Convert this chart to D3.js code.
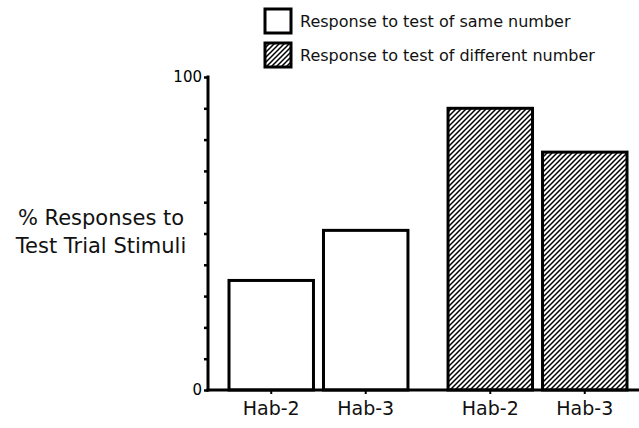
<!DOCTYPE html>
<html>
<head>
<meta charset="utf-8">
<style>
body { margin: 0; background: #fff; }
svg { display: block; font-family: "DejaVu Sans", Verdana, sans-serif; }
.axis .domain { display: none; }
</style>
</head>
<body>
<svg width="639" height="428" id="chart"></svg>
<script src="https://d3js.org/d3.v7.min.js"></script>
<script>
// data
var groups = ["same", "different"];
var categories = ["Hab-2", "Hab-3"];
var sameValues = [35, 51];
var differentValues = [90, 76];
var legendLabels = ["Response to test of same number", "Response to test of different number"];
var yTicks = [0, 10, 20, 30, 40, 50, 60, 70, 80, 90, 100];
var yLabelLines = ["% Responses to", "Test Trial Stimuli"];

var svg = d3.select("#chart");

var defs = svg.append("defs");
var pat = defs.append("pattern")
    .attr("id", "hatch")
    .attr("patternUnits", "userSpaceOnUse")
    .attr("width", 5)
    .attr("height", 5);
pat.append("rect").attr("width", 5).attr("height", 5).attr("fill", "#fff");
pat.append("path")
    .attr("d", "M-1,1 l2,-2 M0,5 l5,-5 M4,6 l2,-2")
    .attr("stroke", "#000")
    .attr("stroke-width", 1.5);

var seriesByGroup = {same: sameValues, different: differentValues};
var fillByGroup = {same: "#fff", different: "url(#hatch)"};

var data = [];
groups.forEach(function(g) {
  categories.forEach(function(c, i) {
    data.push({group: g, cat: c, value: seriesByGroup[g][i]});
  });
});

var x0 = d3.scaleBand()
    .domain(groups)
    .range([229, 627])
    .paddingInner(0.183)
    .paddingOuter(0);

var x1 = d3.scaleBand()
    .domain(categories)
    .range([0, x0.bandwidth()])
    .paddingInner(0.106)
    .paddingOuter(0);

var y = d3.scaleLinear()
    .domain([0, 100])
    .range([390, 77]);

// bars
svg.append("g")
  .selectAll("rect").data(data)
  .enter().append("rect")
    .attr("x", function(d) { return x0(d.group) + x1(d.cat); })
    .attr("y", function(d) { return y(d.value); })
    .attr("width", x1.bandwidth())
    .attr("height", function(d) { return y(0) - y(d.value); })
    .attr("fill", function(d) { return fillByGroup[d.group]; })
    .attr("stroke", "#000")
    .attr("stroke-width", 3);

// y axis
var yAxis = svg.append("g")
    .attr("class", "axis")
    .attr("transform", "translate(208,0)")
    .call(d3.axisLeft(y)
      .tickValues(yTicks)
      .tickSize(4)
      .tickPadding(2)
      .tickFormat(function(d) { return (d === 0 || d === 100) ? d : ""; }));
yAxis.selectAll(".tick line").attr("stroke", "#000").attr("stroke-width", 2.5);
yAxis.selectAll(".tick text").attr("font-size", 15).attr("fill", "#000")
    .attr("font-family", "DejaVu Sans");
svg.append("line")
    .attr("x1", 208).attr("x2", 208)
    .attr("y1", y(100) - 1.5).attr("y2", y(0) + 1.5)
    .attr("stroke", "#000").attr("stroke-width", 3);

// x axis
var xTicks = [];
groups.forEach(function(g) {
  categories.forEach(function(c) {
    xTicks.push({x: x0(g) + x1(c) + x1.bandwidth() / 2, label: c});
  });
});
svg.append("line")
    .attr("x1", 206.5).attr("x2", 639)
    .attr("y1", y(0)).attr("y2", y(0))
    .attr("stroke", "#000").attr("stroke-width", 3);
var xt = svg.append("g").selectAll("g").data(xTicks).enter().append("g")
    .attr("transform", function(d) { return "translate(" + d.x + "," + y(0) + ")"; });
xt.append("line").attr("y1", 0).attr("y2", 4).attr("stroke", "#000").attr("stroke-width", 2);
xt.append("text")
    .attr("y", 25)
    .attr("text-anchor", "middle")
    .attr("font-size", 19)
    .attr("fill", "#111")
    .text(function(d) { return d.label; });

// y label
svg.append("g").selectAll("text").data(yLabelLines).enter().append("text")
    .attr("x", 101)
    .attr("y", function(d, i) { return 225 + i * 28; })
    .attr("text-anchor", "middle")
    .attr("font-size", 21)
    .attr("fill", "#111")
    .text(function(d) { return d; });

// legend
var legend = svg.append("g").selectAll("g").data(groups).enter().append("g")
    .attr("transform", function(d, i) { return "translate(265," + (9 + i * 34) + ")"; });
legend.append("rect")
    .attr("width", 26)
    .attr("height", 24)
    .attr("fill", function(d) { return fillByGroup[d]; })
    .attr("stroke", "#000")
    .attr("stroke-width", 3);
legend.append("text")
    .attr("x", 35)
    .attr("y", 18)
    .attr("font-size", 16)
    .attr("fill", "#111")
    .text(function(d, i) { return legendLabels[i]; });
</script>
</body>
</html>
